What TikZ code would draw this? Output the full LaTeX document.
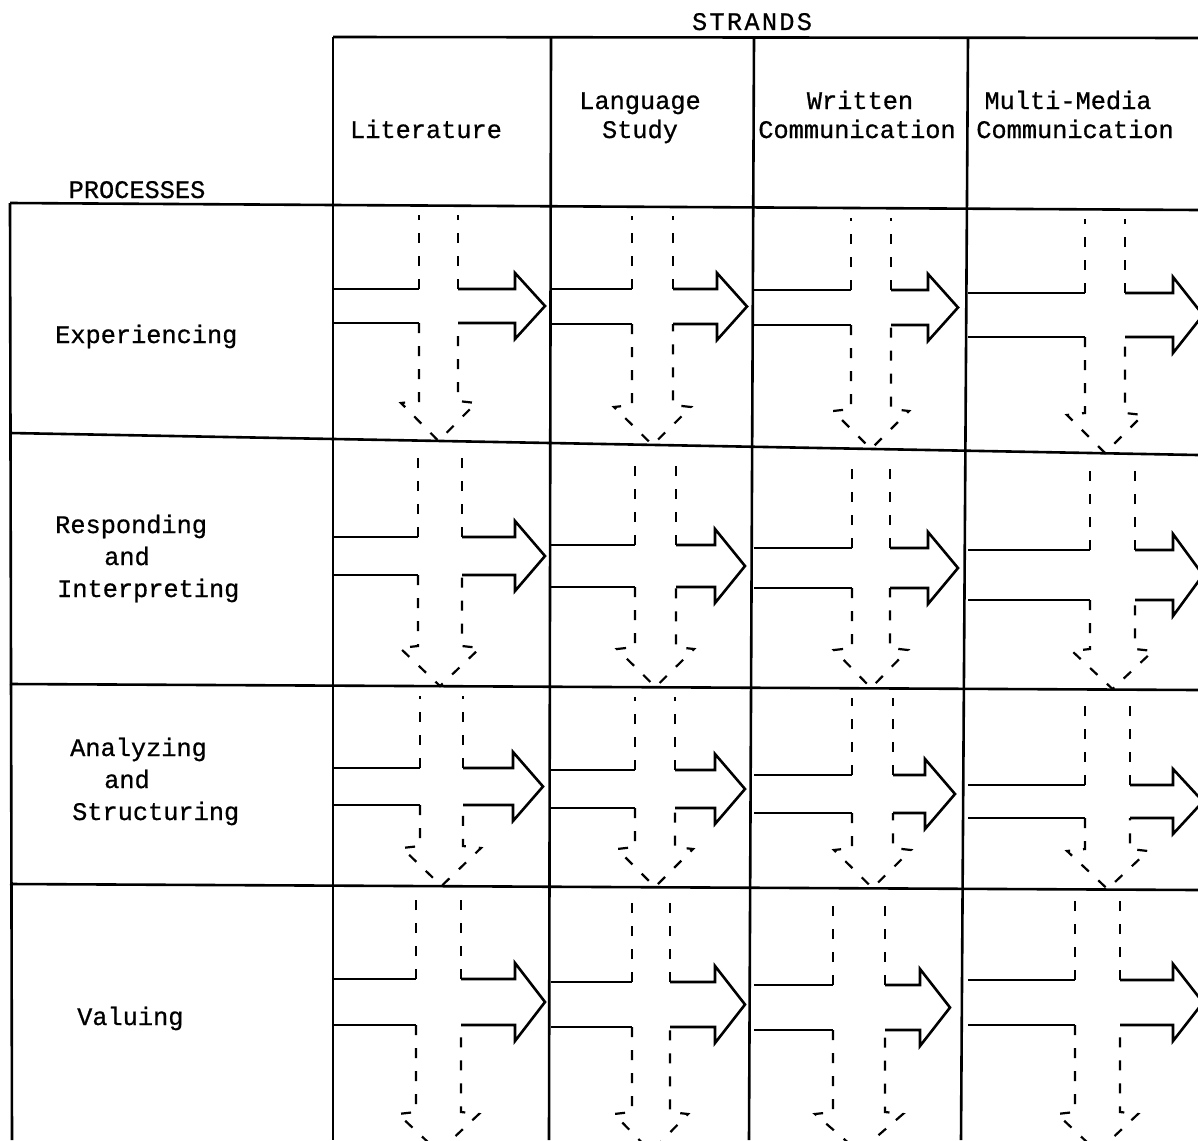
\documentclass[tikz,border=0pt]{standalone}
\usepackage{fontspec}
\newfontfamily\twfont[FakeBold=0.7]{Liberation Mono}
\newcommand\cellarrow[8]{%
 \draw[solidln] (#1,#4) -- (#2,#4);
 \draw[solidln] (#1,#5) -- (#2,#5);
 \draw[solidln] (#3,#4) -- ({#6-30},#4) -- ({#6-30},{#4-16}) -- (#6,{(#4+#5)/2}) -- ({#6-30},{#5+16}) -- ({#6-30},#5) -- (#3,#5);
 \draw[dashln] (#2,#4) -- (#2,{#7+10});
 \draw[dashln] (#3,#4) -- (#3,{#7+10});
 \draw[dashln] (#2,#5) -- (#2,{#8-40}) -- ({#2-18},{#8-38}) -- ({(#2+#3)/2},#8) -- ({#3+18},{#8-38}) -- (#3,{#8-40}) -- (#3,#5);
}
\begin{document}
\begin{tikzpicture}[x=1pt,y=-1pt,
  gridln/.style={line width=2.6pt},
  solidln/.style={line width=2.6pt, line join=miter},
  dashln/.style={line width=2.2pt, dash pattern=on 10pt off 13pt},
  lbl/.style={font=\twfont\fontsize{25.3}{29}\selectfont, inner sep=0pt}]
\useasboundingbox (0,0) rectangle (1198,1140);
\fill[white] (0,0) rectangle (1198,1140);
% grid
\draw[gridln] (333,37) -- (1198,38);
\draw[gridln] (10,203) -- (333,205) -- (1198,210);
\draw[gridln] (10,433) -- (1198,455);
\draw[gridln] (10,684) -- (1198,690);
\draw[gridln] (10,884) -- (1198,890);
\draw[gridln] (10,203) -- (12,1140);
\draw[gridln] (333,37) -- (333,1140);
\draw[gridln] (551,38) -- (549,1140);
\draw[gridln] (754,38) -- (749,1140);
\draw[gridln] (968,38) -- (961,1140);
% header texts
\node[lbl, anchor=base, font=\twfont\fontsize{25.3}{29}\selectfont\addfontfeature{LetterSpace=9}] (strands) at (752,30) {STRANDS};
\node[lbl, anchor=base] (processes) at (137,198) {PROCESSES};
\node[lbl, anchor=base] (lit) at (426,138) {Literature};
\node[lbl, anchor=base] (lang1) at (640,109) {Language};
\node[lbl, anchor=base] (lang2) at (640,138) {Study};
\node[lbl, anchor=base] (wr1) at (860,109) {Written};
\node[lbl, anchor=base] (wr2) at (857,138) {Communication};
\node[lbl, anchor=base] (mm1) at (1068,109) {Multi-Media};
\node[lbl, anchor=base] (mm2) at (1075,138) {Communication};
% process texts
\node[lbl, anchor=base west] (exp) at (55,343) {Experiencing};
\node[lbl, anchor=base west] (resp1) at (55,533) {Responding};
\node[lbl, anchor=base west] (resp2) at (104,565) {and};
\node[lbl, anchor=base west] (resp3) at (57,597) {Interpreting};
\node[lbl, anchor=base west] (ana1) at (70,756) {Analyzing};
\node[lbl, anchor=base west] (ana2) at (104,788) {and};
\node[lbl, anchor=base west] (ana3) at (72,820) {Structuring};
\node[lbl, anchor=base west] (val) at (77,1025) {Valuing};
% cells: xl, xa, xb, ya, yb, xt, ytop, ybot
\cellarrow{333}{419}{458}{289}{323}{545}{205}{441}
\cellarrow{551}{632}{673}{289}{324}{747}{206}{445}
\cellarrow{754}{851}{891}{290}{325}{958}{208}{449}
\cellarrow{968}{1085}{1125}{293}{337}{1203}{209}{453}
\cellarrow{333}{418}{462}{537}{575}{545}{441}{686}
\cellarrow{551}{635}{676}{545}{587}{745}{445}{687}
\cellarrow{754}{852}{890}{548}{588}{958}{449}{688}
\cellarrow{968}{1090}{1135}{550}{600}{1203}{453}{689}
\cellarrow{333}{420}{463}{768}{805}{543}{686}{886}
\cellarrow{551}{635}{675}{770}{808}{745}{687}{887}
\cellarrow{754}{852}{893}{775}{813}{955}{688}{888}
\cellarrow{968}{1085}{1130}{785}{818}{1203}{689}{889}
\cellarrow{333}{416}{461}{979}{1025}{545}{886}{1152}
\cellarrow{551}{632}{670}{982}{1027}{745}{887}{1152}
\cellarrow{754}{833}{885}{985}{1030}{950}{888}{1152}
\cellarrow{968}{1075}{1120}{980}{1025}{1203}{889}{1152}
\end{tikzpicture}
\end{document}
